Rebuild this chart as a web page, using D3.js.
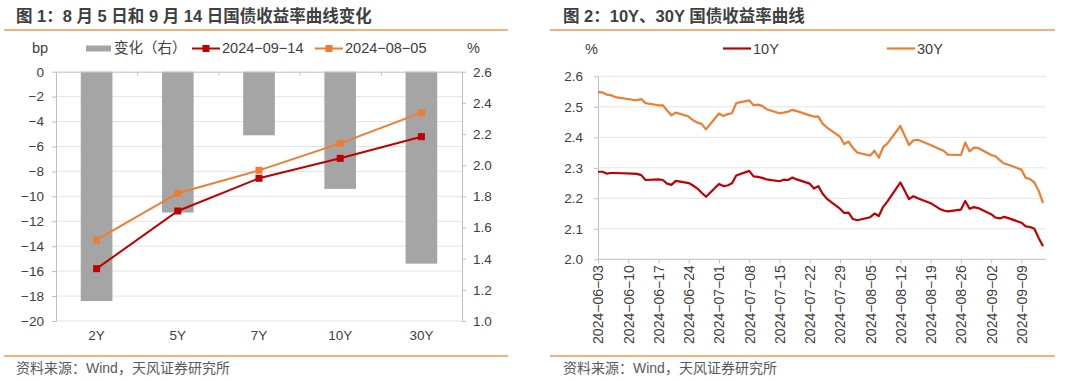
<!DOCTYPE html>
<html><head><meta charset="utf-8">
<script src="https://cdnjs.cloudflare.com/ajax/libs/d3/7.8.5/d3.min.js"></script>
<style>
  body { margin: 0; background: #fff; }
  svg text { font-family: "Liberation Sans", "Noto Sans CJK SC", sans-serif; fill: #404040; }
</style>
</head>
<body>
<svg id="chart" width="1080" height="381"></svg>
<script>
// ---- chart 1 data: curve on two dates and change (bp)
const categories = ["2Y", "5Y", "7Y", "10Y", "30Y"];
const changeBp = [-18.4, -11.3, -5.1, -9.4, -15.4];
const yield0914 = [1.336, 1.706, 1.916, 2.044, 2.183];
const yield0805 = [1.520, 1.820, 1.967, 2.140, 2.337];
const bpTicks = d3.range(-20, 1, 2);
const pctTicks = [1.0, 1.2, 1.4, 1.6, 1.8, 2.0, 2.2, 2.4, 2.6];

// ---- chart 2 data: daily 10Y / 30Y yields
const tradeDates = ["2024-06-03","2024-06-04","2024-06-05","2024-06-06","2024-06-07","2024-06-11","2024-06-12","2024-06-13","2024-06-14",
  "2024-06-17","2024-06-18","2024-06-19","2024-06-20","2024-06-21","2024-06-24","2024-06-25","2024-06-26","2024-06-27","2024-06-28",
  "2024-07-01","2024-07-02","2024-07-03","2024-07-04","2024-07-05","2024-07-08","2024-07-09","2024-07-10","2024-07-11","2024-07-12",
  "2024-07-15","2024-07-16","2024-07-17","2024-07-18","2024-07-19","2024-07-22","2024-07-23","2024-07-24","2024-07-25","2024-07-26",
  "2024-07-29","2024-07-30","2024-07-31","2024-08-01","2024-08-02","2024-08-05","2024-08-06","2024-08-07","2024-08-08","2024-08-09",
  "2024-08-12","2024-08-13","2024-08-14","2024-08-15","2024-08-16","2024-08-19","2024-08-20","2024-08-21","2024-08-22","2024-08-23",
  "2024-08-26","2024-08-27","2024-08-28","2024-08-29","2024-08-30","2024-09-02","2024-09-03","2024-09-04","2024-09-05","2024-09-06",
  "2024-09-09","2024-09-10","2024-09-11","2024-09-12","2024-09-13","2024-09-14"];
const y10 = [2.287, 2.287, 2.281, 2.283, 2.283, 2.281, 2.280, 2.276, 2.260, 2.262, 2.260, 2.248, 2.244, 2.257, 2.250, 2.242, 2.232, 2.218, 2.205,
  2.247, 2.240, 2.242, 2.249, 2.275, 2.290, 2.272, 2.270, 2.267, 2.262, 2.256, 2.261, 2.260, 2.268, 2.262, 2.248, 2.232, 2.240, 2.215, 2.198, 2.166, 2.152, 2.153,
  2.132, 2.128, 2.138, 2.150, 2.142, 2.172, 2.190, 2.252, 2.225, 2.197, 2.207, 2.200, 2.184, 2.175, 2.166, 2.160, 2.157, 2.163, 2.191, 2.166, 2.171, 2.168,
  2.148, 2.137, 2.134, 2.139, 2.135, 2.120, 2.108, 2.106, 2.100, 2.070, 2.043];
const y30 = [2.548, 2.547, 2.540, 2.538, 2.532, 2.523, 2.522, 2.525, 2.512, 2.505, 2.505, 2.488, 2.472, 2.481, 2.468, 2.456, 2.448, 2.444, 2.426,
  2.478, 2.470, 2.476, 2.479, 2.512, 2.521, 2.505, 2.507, 2.503, 2.492, 2.479, 2.481, 2.484, 2.490, 2.486, 2.472, 2.468, 2.468, 2.445, 2.432, 2.402, 2.378, 2.386,
  2.365, 2.350, 2.340, 2.356, 2.333, 2.368, 2.380, 2.437, 2.405, 2.375, 2.390, 2.392, 2.375, 2.368, 2.362, 2.356, 2.343, 2.342, 2.383, 2.354, 2.366, 2.365,
  2.342, 2.338, 2.325, 2.314, 2.310, 2.294, 2.267, 2.263, 2.252, 2.225, 2.184];
const yieldTicks = [2.0, 2.1, 2.2, 2.3, 2.4, 2.5, 2.6];

const RED = "#C00000", ORANGE = "#ED7D31", BARGRAY = "#A5A5A5", AXIS = "#BFBFBF", GRID = "#E4E4E4", RULE = "#F79646";
const minus = d => (d < 0 ? "\u2212" + Math.abs(d) : "" + d);

let svg = d3.select("svg#chart");

// title, rules and source note for one panel
function panelFrame(x0, x1, tx, title) {
  svg.append("text").attr("x", tx).attr("y", 22).style("font-size", "16.5px").style("font-weight", "bold").text(title);
  svg.append("line").attr("x1", x0).attr("x2", x1).attr("y1", 30).attr("y2", 30).attr("stroke", RULE).attr("stroke-width", 1.5);
  svg.append("line").attr("x1", x0).attr("x2", x1).attr("y1", 356).attr("y2", 356).attr("stroke", RULE).attr("stroke-width", 1.5);
  svg.append("text").attr("x", tx).attr("y", 373).style("font-size", "14px").style("fill", "#595959").text("资料来源：Wind，天风证券研究所");
}
function styleAxis(g) {
  g.selectAll("path.domain").attr("stroke", AXIS);
  g.selectAll(".tick line").attr("stroke", AXIS);
  g.selectAll("text").style("font-size", "13.5px").attr("fill", "#404040").style("font-family", null);
}

// ================= chart 1 =================
panelFrame(4, 508, 16, "图 1：8 月 5 日和 9 月 14 日国债收益率曲线变化");

const left = 56, right = 462, top1 = 71.7, bottom1 = 321;
let xBand = d3.scaleBand().domain(categories).range([left, right]).paddingInner(0.61).paddingOuter(0.305);
let yBp = d3.scaleLinear().domain([-20, 0]).range([bottom1, top1]);
let yPct = d3.scaleLinear().domain([1.0, 2.6]).range([bottom1, top1]);

svg.append("g").selectAll("line").data(bpTicks.filter(d => d !== 0)).enter().append("line")
  .attr("x1", left).attr("x2", right).attr("y1", d => yBp(d)).attr("y2", d => yBp(d))
  .attr("stroke", GRID).attr("stroke-width", 1);

svg.append("g").selectAll("rect").data(categories).enter().append("rect")
  .attr("x", d => xBand(d)).attr("width", xBand.bandwidth())
  .attr("y", yBp(0)).attr("height", (d, i) => yBp(changeBp[i]) - yBp(0))
  .attr("fill", BARGRAY);

let gl = svg.append("g").attr("transform", "translate(" + left + ",0)")
  .call(d3.axisLeft(yBp).tickValues(bpTicks).tickSize(4).tickSizeOuter(0).tickPadding(8).tickFormat(minus));
styleAxis(gl);
let gr = svg.append("g").attr("transform", "translate(" + right + ",0)")
  .call(d3.axisRight(yPct).tickValues(pctTicks).tickSize(4).tickSizeOuter(0).tickPadding(7).tickFormat(d3.format(".1f")));
styleAxis(gr);

// category axis sits at 0 (top); boundary ticks
let bounds = d3.scaleLinear().domain([0, 5]).range([left, right]);
let gt = svg.append("g").attr("transform", "translate(0," + yBp(0) + ")")
  .call(d3.axisBottom(bounds).ticks(5).tickSize(4).tickSizeOuter(0).tickFormat(""));
styleAxis(gt);
let gb = svg.append("g").attr("transform", "translate(0," + bottom1 + ")")
  .call(d3.axisBottom(xBand).tickSize(0).tickPadding(9));
styleAxis(gb);
gb.select("path.domain").remove();

const cx = d => xBand(d) + xBand.bandwidth() / 2;
[[yield0805, ORANGE], [yield0914, RED]].forEach(([vals, col]) => {
  let line = d3.line().x((d, i) => cx(categories[i])).y(d => yPct(d));
  svg.append("path").datum(vals).attr("d", line).attr("fill", "none").attr("stroke", col).attr("stroke-width", 2);
  svg.append("g").selectAll("rect").data(vals).enter().append("rect")
    .attr("x", (d, i) => cx(categories[i]) - 3.5).attr("y", d => yPct(d) - 3.5)
    .attr("width", 7).attr("height", 7).attr("fill", col);
});

// legend 1
let lg = svg.append("g").style("font-size", "14.5px");
lg.append("text").attr("x", 32).attr("y", 53).text("bp");
lg.append("rect").attr("x", 86).attr("y", 45.5).attr("width", 25).attr("height", 6).attr("fill", BARGRAY);
lg.append("text").attr("x", 114).attr("y", 53).text("变化（右）");
[[192, RED, "2024\u221209\u221214"], [315, ORANGE, "2024\u221208\u221205"]].forEach(([x, col, t]) => {
  lg.append("line").attr("x1", x).attr("x2", x + 28).attr("y1", 48.5).attr("y2", 48.5).attr("stroke", col).attr("stroke-width", 2);
  lg.append("rect").attr("x", x + 10.5).attr("y", 45).attr("width", 7).attr("height", 7).attr("fill", col);
  lg.append("text").attr("x", x + 30).attr("y", 53).text(t);
});
lg.append("text").attr("x", 467).attr("y", 53).text("%");

// ================= chart 2 =================
panelFrame(550, 1055, 563, "图 2：10Y、30Y 国债收益率曲线");

const parse = d3.timeParse("%Y-%m-%d");
const dates = tradeDates.map(parse);
const left2 = 598, right2 = 1046, top2 = 76.3, bottom2 = 259.3;
let xTime = d3.scaleTime().domain([dates[0], dates[dates.length - 1]]).range([left2, 1043]);
let yYield = d3.scaleLinear().domain([2.0, 2.6]).range([bottom2, top2]);

svg.append("g").selectAll("line").data(yieldTicks.slice(1)).enter().append("line")
  .attr("x1", left2).attr("x2", right2).attr("y1", d => yYield(d)).attr("y2", d => yYield(d))
  .attr("stroke", GRID).attr("stroke-width", 1);

let gy2 = svg.append("g").attr("transform", "translate(" + left2 + ",0)")
  .call(d3.axisLeft(yYield).tickValues(yieldTicks).tickSize(4).tickSizeOuter(0).tickPadding(11).tickFormat(d3.format(".1f")));
styleAxis(gy2);

const weeks = d3.timeMonday.range(parse("2024-06-03"), parse("2024-09-10"));
let gx2 = svg.append("g").attr("transform", "translate(0," + bottom2 + ")")
  .call(d3.axisBottom(xTime).tickValues(weeks).tickSize(4).tickSizeOuter(0).tickFormat(d3.timeFormat("%Y\u2212%m\u2212%d")));
styleAxis(gx2);
gx2.select("path.domain").attr("d", "M" + left2 + ",0H" + right2);
gx2.selectAll("text").attr("transform", "rotate(-90)").attr("text-anchor", "end")
  .attr("x", -6).attr("y", 0).attr("dy", "0.35em").style("font-size", "14px");

[[y30, ORANGE], [y10, RED]].forEach(([vals, col]) => {
  let line = d3.line().x((d, i) => xTime(dates[i])).y(d => yYield(d));
  svg.append("path").datum(vals).attr("d", line).attr("fill", "none").attr("stroke", col)
    .attr("stroke-width", 2.2).attr("stroke-linejoin", "round");
});

// legend 2
let lg2 = svg.append("g").style("font-size", "14.5px");
lg2.append("text").attr("x", 585).attr("y", 54).text("%");
[[723, RED, "10Y"], [887, ORANGE, "30Y"]].forEach(([x, col, t]) => {
  lg2.append("line").attr("x1", x).attr("x2", x + 28).attr("y1", 48.5).attr("y2", 48.5).attr("stroke", col).attr("stroke-width", 2.2);
  lg2.append("text").attr("x", x + 30).attr("y", 54).text(t);
});
</script>
</body>
</html>
